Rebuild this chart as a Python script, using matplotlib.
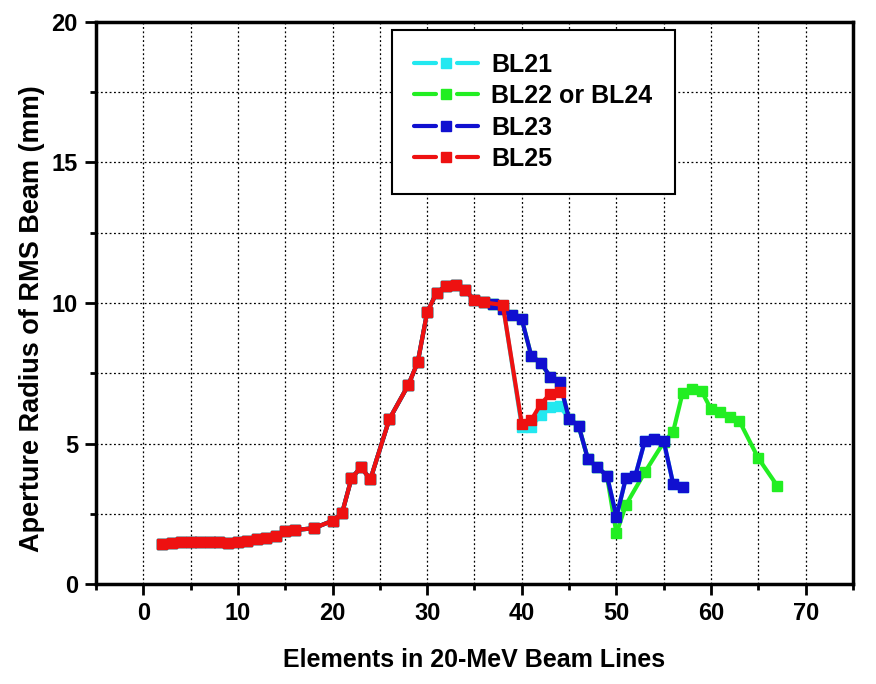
import matplotlib
matplotlib.use('Agg')
import matplotlib.pyplot as plt
from matplotlib.lines import Line2D
from matplotlib.legend_handler import HandlerBase
from matplotlib.ticker import MultipleLocator

plt.rcParams['font.family'] = ['Liberation Sans', 'DejaVu Sans']

# shared part of all beam lines (elements 2..36)
common_x = [2, 3, 4, 5, 6, 7, 8, 9, 10, 11, 12, 13, 14, 15, 16, 18, 20, 21, 22, 23, 24,
            26, 28, 29, 30, 31, 32, 33, 34, 35, 36]
common_y = [1.43, 1.48, 1.5, 1.5, 1.5, 1.52, 1.5, 1.48, 1.5, 1.55, 1.62, 1.65, 1.72, 1.9, 1.93,
            1.99, 2.26, 2.52, 3.77, 4.16, 3.73,
            5.87, 7.08, 7.89, 9.67, 10.37, 10.6, 10.64, 10.46, 10.1, 10.02]

# BL23 after element 36
bl23_x = [37, 38, 39, 40, 41, 42, 43, 44, 45, 46, 47, 48, 49, 50, 51, 52, 53, 54, 55, 56, 57]
bl23_y = [9.95, 9.8, 9.57, 9.42, 8.12, 7.88, 7.38, 7.18, 5.88, 5.64, 4.44, 4.16, 3.86, 2.4,
          3.77, 3.86, 5.09, 5.15, 5.09, 3.57, 3.45]

# BL25 after element 36
bl25_x = [38, 40, 41, 42, 43, 44]
bl25_y = [9.93, 5.70, 5.84, 6.4, 6.77, 6.83]

# BL21 between element 37 and 44, then same as BL23
bl21_x = [37, 38, 40, 41, 42, 43, 44]
bl21_y = [9.95, 9.93, 5.6, 5.6, 6.02, 6.31, 6.34]

# BL22 / BL24 after element 49
bl22_x = [50, 51, 53, 55, 56, 57, 58, 59, 60, 61, 62, 63, 65, 67]
bl22_y = [1.81, 2.82, 3.98, 5.05, 5.43, 6.81, 6.93, 6.87, 6.22, 6.11, 5.94, 5.8, 4.48, 3.5]

labels = ['BL21', 'BL22 or BL24', 'BL23', 'BL25']
colors = ['#22e8f0', '#22ee22', '#1010d0', '#ee1111']

n23 = bl23_x.index(45)
n49 = bl23_x.index(49) + 1
series = [
    (common_x + bl21_x + bl23_x[n23:], common_y + bl21_y + bl23_y[n23:]),
    (common_x + bl23_x[:n49] + bl22_x, common_y + bl23_y[:n49] + bl22_y),
    (common_x + bl23_x, common_y + bl23_y),
    (common_x + bl25_x, common_y + bl25_y),
]


class GapHandler(HandlerBase):
    # legend sample like Origin: line - square - line, with small gaps
    def create_artists(self, legend, orig, xdescent, ydescent, width, height, fontsize, trans):
        c = orig.get_color()
        y = height / 2 - ydescent
        x0 = -xdescent
        x1 = x0 + width
        xm = (x0 + x1) / 2
        g = width * 0.17
        a = Line2D([x0, xm - g], [y, y], color=c, lw=3, solid_capstyle='round', transform=trans)
        b = Line2D([xm + g, x1], [y, y], color=c, lw=3, solid_capstyle='round', transform=trans)
        m = Line2D([xm], [y], color=c, marker='s', ms=7, ls='none', transform=trans)
        return [a, b, m]


fig = plt.figure(figsize=(8.76, 6.84), dpi=100)
ax = fig.add_axes([0.1096, 0.1458, 0.8641, 0.8225])

lines = []
for (xs, ys), c in zip(series, colors):
    ln, = ax.plot(xs, ys, color=c, lw=3, marker='s', ms=7, mec=c, solid_capstyle='round')
    lines.append(ln)

ax.set_xlim(-5, 75)
ax.set_ylim(0, 20)
ax.xaxis.set_major_locator(MultipleLocator(10))
ax.xaxis.set_minor_locator(MultipleLocator(5))
ax.yaxis.set_major_locator(MultipleLocator(5))
ax.yaxis.set_minor_locator(MultipleLocator(2.5))
ax.grid(True, which='both', color='black', linestyle=(0, (1.5, 2)), lw=0.9)
ax.set_axisbelow(True)

for s in ax.spines.values():
    s.set_linewidth(2.5)
ax.tick_params(which='major', direction='out', length=8, width=2, pad=5)
ax.tick_params(which='minor', direction='out', length=4.5, width=2)
ax.tick_params(top=False, right=False, which='both')

for t in ax.get_xticklabels() + ax.get_yticklabels():
    t.set_fontweight('bold')
    t.set_fontsize(17)

ax.set_xlabel('Elements in 20-MeV Beam Lines', fontsize=18, fontweight='bold', labelpad=16)
ax.set_ylabel('Aperture Radius of RMS Beam (mm)', fontsize=19.5, fontweight='bold')
ax.yaxis.set_label_coords(-0.068, 0.4715)

leg = ax.legend(lines, labels, handler_map={Line2D: GapHandler()},
                loc='upper left', bbox_to_anchor=(0.391, 0.985),
                prop={'weight': 'bold', 'size': 18}, handlelength=2.56, fancybox=False,
                framealpha=1, edgecolor='black', borderpad=0.9, labelspacing=0.3,
                handletextpad=0.5, borderaxespad=0)
leg.get_frame().set_linewidth(1.5)

fig.savefig('out.png', dpi=100)
